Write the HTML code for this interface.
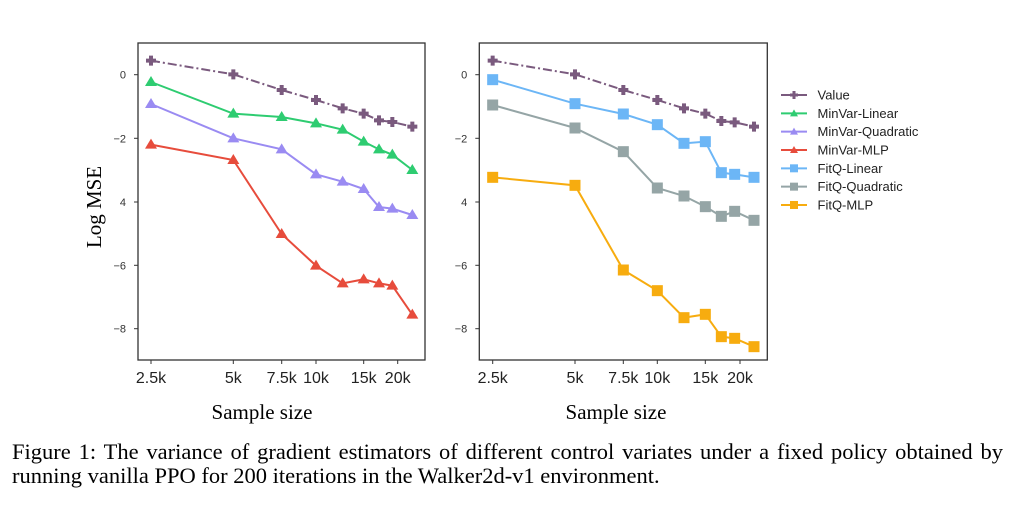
<!DOCTYPE html>
<html><head><meta charset="utf-8"><style>
html,body{margin:0;padding:0;background:#fff;}
body{width:1027px;height:511px;position:relative;overflow:hidden;}
.cap{position:absolute;left:12px;width:991px;font-family:"Liberation Serif",serif;font-size:22.5px;color:#000;white-space:nowrap;line-height:26px;}
</style></head><body>
<svg id="s" width="1027" height="511" style="position:absolute;left:0;top:0" xmlns="http://www.w3.org/2000/svg"></svg>
<div class="cap" style="top:439px;text-align:justify;text-align-last:justify;">Figure 1: The variance of gradient estimators of different control variates under a fixed policy obtained by</div>
<div class="cap" style="top:463px;">running vanilla PPO for 200 iterations in the Walker2d-v1 environment.</div>
<script>
const s=document.getElementById('s');let h='';
function marker(t,x,y,c){
 if(t=='p') return `<path d="M${x-2},${y-5}h4v3h3v4h-3v3h-4v-3h-3v-4h3z" fill="${c}"/>`;
 if(t=='t') return `<path d="M${x},${y-6}L${x+6},${y+4}L${x-6},${y+4}z" fill="${c}"/>`;
 return `<rect x="${x-5.5}" y="${y-5.5}" width="11" height="11" fill="${c}"/>`;
}
function series(ox,xs,ys,c,t,dash){
 const pts=xs.map((v,i)=>[ox+v/3,40+ys[i]/3]);
 h+=`<polyline points="${pts.map(p=>p.join(',')).join(' ')}" fill="none" stroke="${c}" stroke-width="2" ${dash?'stroke-dasharray="9,3,2,3"':''}/>`;
 pts.forEach(p=>h+=marker(t,p[0],p[1],c));
}
function axes(x0,x1,xt){
 h+=`<rect x="${x0}" y="43" width="${x1-x0}" height="317" fill="none" stroke="#333" stroke-width="1.3"/>`;
 [[74.7,'0'],[138.3,'-2'],[202,'4'],[265.3,'-6'],[328.7,'-8']].forEach(([y,l])=>{
  h+=`<line x1="${x0-4}" x2="${x0}" y1="${y}" y2="${y}" stroke="#333"/>`;
  h+=`<text x="${x0-12}" y="${y+4}" font-family="Liberation Sans,sans-serif" font-size="11" fill="#333" text-anchor="end">${l.replace('-','\u2212')}</text>`;
 });
 xt.forEach(([x,l])=>{
  h+=`<line x1="${x}" x2="${x}" y1="360" y2="364" stroke="#333"/>`;
  h+=`<text x="${x}" y="383" font-family="Liberation Sans,sans-serif" font-size="16" fill="#222" text-anchor="middle">${l}</text>`;
 });
}
axes(138,425,[[151,'2.5k'],[233.3,'5k'],[281.7,'7.5k'],[316,'10k'],[363.7,'15k'],[397.7,'20k']]);
axes(479.3,767.3,[[492.7,'2.5k'],[575,'5k'],[623.3,'7.5k'],[657.3,'10k'],[705.3,'15k'],[740,'20k']]);
const LX=[213,460,605,708,788,851,897,937,997];
series(80,LX,[62,103,150,180,205,221,241,246,260],'#7a5a7e','p',1);
series(80,LX,[126,221,231,250,269,305,328,344,390],'#2ecc71','t');
series(80,LX,[192,295,328,403,425,447,501,506,525],'#9a8bf2','t');
series(80,LX,[314,360,582,677,730,718,730,737,824],'#e74c3c','t');
const RX=[158,405,550,652,732,796,844,884,942];
series(440,RX,[62,103,150,180,205,221,243,247,260],'#7a5a7e','p',1);
series(440,RX,[119,191,222,254,310,305,398,403,412],'#6cb6f6','s');
series(440,RX,[195,264,335,444,468,500,529,514,541],'#95a5a6','s');
series(440,RX,[412,436,690,752,833,823,890,895,920],'#f7ac0f','s');
const leg=[['Value','#7a5a7e','p'],['MinVar-Linear','#2ecc71','t'],['MinVar-Quadratic','#9a8bf2','t'],['MinVar-MLP','#e74c3c','t'],['FitQ-Linear','#6cb6f6','s'],['FitQ-Quadratic','#95a5a6','s'],['FitQ-MLP','#f7ac0f','s']];
leg.forEach(([l,c,t],i)=>{const y=95+i*18.33;
 h+=`<line x1="781" x2="807" y1="${y}" y2="${y}" stroke="${c}" stroke-width="2"/>`;
 h+=t=='p'?`<path d="M792.5,${y-4}h3v2.5h2.5v3h-2.5v2.5h-3v-2.5h-2.5v-3h2.5z" fill="${c}"/>`:t=='t'?`<path d="M794,${y-4}L798,${y+3}L790,${y+3}z" fill="${c}"/>`:`<rect x="790" y="${y-4}" width="8" height="8" fill="${c}"/>`;
 h+=`<text x="817.5" y="${y+4.5}" font-family="Liberation Sans,sans-serif" font-size="13" fill="#222">${l}</text>`;
});
h+=`<text transform="translate(101,207) rotate(-90)" font-family="Liberation Serif,serif" font-size="21" text-anchor="middle" fill="#000">Log MSE</text>`;
h+=`<text x="262" y="419" font-family="Liberation Serif,serif" font-size="21" text-anchor="middle" fill="#000">Sample size</text>`;
h+=`<text x="616" y="419" font-family="Liberation Serif,serif" font-size="21" text-anchor="middle" fill="#000">Sample size</text>`;
s.innerHTML=h;
</script>
</body></html>
